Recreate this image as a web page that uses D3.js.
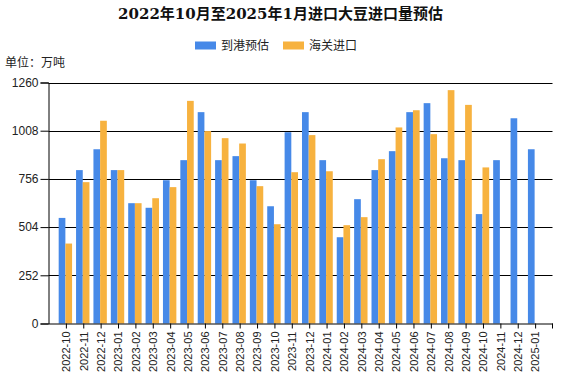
<!DOCTYPE html>
<html lang="zh">
<head>
    <meta charset="UTF-8">
    <title>进口大豆进口量预估</title>
    <style>
        body { margin: 0; background: #fff; }
        svg text { font-family: "Liberation Sans", "Noto Sans CJK SC", sans-serif; }
        .title { font-family: "DejaVu Serif", "Noto Sans CJK SC", serif !important; font-weight: bold; }
    </style>
</head>
<body>
<div id="chart"></div>
<script src="https://d3js.org/d3.v7.min.js"></script>
<script type="text/javascript">

        const months = ["2022-10","2022-11","2022-12","2023-01","2023-02","2023-03","2023-04","2023-05",
                "2023-06","2023-07","2023-08","2023-09","2023-10","2023-11","2023-12","2024-01",
                "2024-02","2024-03","2024-04","2024-05","2024-06","2024-07","2024-08","2024-09",
                "2024-10","2024-11","2024-12","2025-01"];

        // 到港预估
        const arrival = [552, 802, 911, 802, 629, 605, 749, 854, 1105, 854, 875, 749, 613, 1000,
                1105, 854, 451, 650, 802, 901, 1105, 1152, 864, 854, 572, 854, 1073, 911];

        // 海关进口 (null = not yet published)
        const customs = [418, 739, 1060, 802, 629, 655, 713, 1164, 1006, 969, 941, 718, 519, 791,
                985, 796, 514, 556, 859, 1025, 1115, 990, 1220, 1143, 816, null, null, null];

        const yTicks = [0, 252, 504, 756, 1008, 1260];
        const seriesNames = ["到港预估", "海关进口"];
        const colors = ["#4689e8", "#f7b23f"];

        const width = 561, height = 374;
        const margin = {left: 48.5, right: 8.5, top: 82.5, bottom: 50.5};

        const svg = d3.select("#chart")
                .append("svg")
                .attr("width", width)
                .attr("height", height);

        const x = d3.scalePoint()
                .domain(months)
                .range([margin.left, width - margin.right])
                .padding(1);

        const y = d3.scaleLinear()
                .domain([0, 1260])
                .range([height - margin.bottom, margin.top]);

        const barW = 6.7;

        //Title
        svg.append("text")
                .attr("class", "title")
                .attr("x", width / 2)
                .attr("y", 19)
                .attr("text-anchor", "middle")
                .attr("font-size", 15)
                .attr("fill", "#111")
                .text("2022年10月至2025年1月进口大豆进口量预估");

        //Legend
        const legendX = [195, 283];
        seriesNames.forEach((name, i) => {
                svg.append("rect")
                        .attr("x", legendX[i])
                        .attr("y", 41.5)
                        .attr("width", 21)
                        .attr("height", 8)
                        .attr("fill", colors[i]);
                svg.append("text")
                        .attr("x", legendX[i] + 26)
                        .attr("y", 50)
                        .attr("font-size", 12)
                        .attr("fill", "#222")
                        .text(name);
        });

        svg.append("text")
                .attr("x", 5)
                .attr("y", 67)
                .attr("font-size", 12)
                .attr("fill", "#222")
                .text("单位：万吨");

        //Grid lines
        svg.append("g")
                .selectAll("line")
                .data(yTicks.slice(1))
                .enter()
                .append("line")
                .attr("x1", margin.left)
                .attr("x2", width - margin.right)
                .attr("y1", d => Math.round(y(d)) + 0.5)
                .attr("y2", d => Math.round(y(d)) + 0.5)
                .attr("stroke", "#000");

        //Bars
        svg.append("g")
                .selectAll("rect")
                .data(arrival)
                .enter()
                .append("rect")
                .attr("x", (d, i) => x(months[i]) - barW - 0.5)
                .attr("y", d => y(d))
                .attr("width", barW)
                .attr("height", d => y(0) - y(d))
                .attr("fill", colors[0]);

        svg.append("g")
                .selectAll("rect")
                .data(customs)
                .enter()
                .filter(d => d !== null)
                .append("rect")
                .attr("x", (d, i) => x(months[i]) - 0.5)
                .attr("y", d => y(d))
                .attr("width", barW)
                .attr("height", d => y(0) - y(d))
                .attr("fill", colors[1]);

        //Axes
        const yAxis = svg.append("g")
                .attr("transform", `translate(${margin.left},0)`)
                .call(d3.axisLeft(y).tickValues(yTicks).tickSize(8).tickPadding(2).tickFormat(d3.format("d")));
        yAxis.select(".domain").attr("stroke", "#000");
        yAxis.selectAll(".tick line").attr("stroke", "#000");
        yAxis.selectAll("text").attr("font-size", 12).attr("fill", "#222")
                .style("font-family", "'Liberation Sans', sans-serif");

        const xAxis = svg.append("g")
                .attr("transform", `translate(0,${height - margin.bottom})`)
                .call(d3.axisBottom(x).tickSizeInner(5).tickSizeOuter(0).tickPadding(3));
        xAxis.select(".domain").attr("stroke", "#000");
        xAxis.selectAll(".tick line").attr("stroke", "#000");
        xAxis.selectAll("text")
                .attr("font-size", 11)
                .attr("fill", "#222")
                .style("font-family", "'Liberation Sans', sans-serif")
                .attr("text-anchor", "end")
                .attr("dy", "0.35em")
                .attr("transform", "rotate(-90)")
                .attr("x", -8)
                .attr("y", 0);
        // end tick at the axis boundary
        xAxis.append("line")
                .attr("x1", width - margin.right)
                .attr("x2", width - margin.right)
                .attr("y1", 0)
                .attr("y2", 5)
                .attr("stroke", "#000");

</script>
</body>
</html>
